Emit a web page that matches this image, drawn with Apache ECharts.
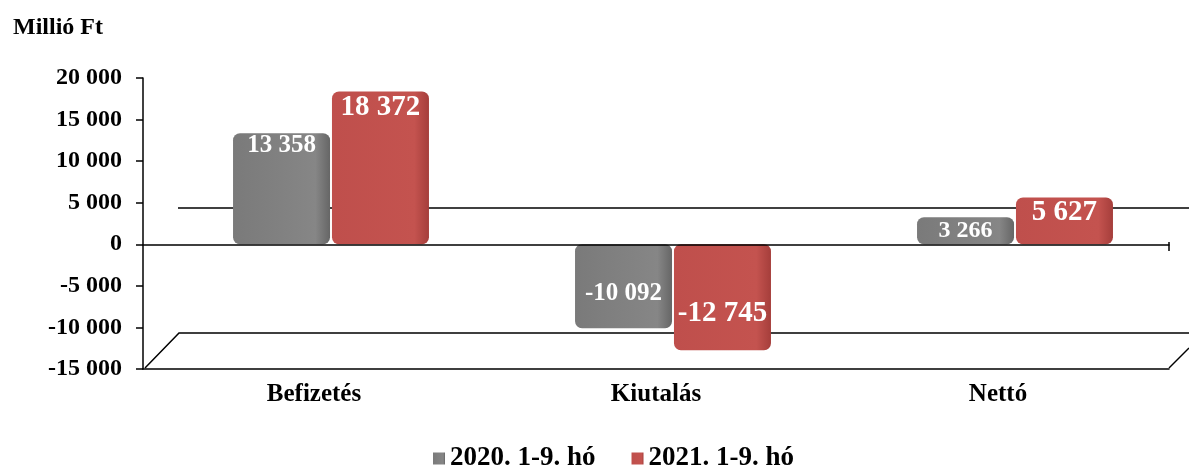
<!DOCTYPE html>
<html><head><meta charset="utf-8">
<script src="https://cdn.jsdelivr.net/npm/echarts@6/dist/echarts.min.js"></script>
<style>html,body{margin:0;padding:0;background:#fff}#c{width:1189px;height:470px}</style>
</head><body><div id="c"></div>
<script>
const categories = ['Befizetés', 'Kiutalás', 'Nettó'];
const seriesNames = ['2020. 1-9. hó', '2021. 1-9. hó'];
const values2020 = [13358, -10092, 3266];
const values2021 = [18372, -12745, 5627];
const yTicks = [-15000, -10000, -5000, 0, 5000, 10000, 15000, 20000];

const fmt = v => {
  const s = Math.abs(v).toString().replace(/\B(?=(\d{3})+(?!\d))/g, ' ');
  return (v < 0 ? '-' : '') + s;
};
const serif = '"Liberation Serif", "Times New Roman", serif';
const yMin = yTicks[0], yMax = yTicks[yTicks.length - 1];

function mkData(vals, fs, topDist) {
  return vals.map(v => {
    const small = Math.abs(v) < 4000;
    return {
      value: v,
      label: {
        position: small ? 'inside' : (v < 0 ? 'insideBottom' : 'insideTop'),
        distance: v < 0 ? 22 : topDist,
        fontSize: small ? 24 : fs
      }
    };
  });
}

const lineStyle = { stroke: '#000', lineWidth: 1.5 };
const chart = echarts.init(document.getElementById('c'));
chart.setOption({
  animation: false,
  textStyle: { fontFamily: serif },
  title: {
    text: 'Millió Ft', left: 8, top: 11,
    textStyle: { fontFamily: serif, fontSize: 24, fontWeight: 'bold', color: '#000' }
  },
  legend: {
    data: seriesNames, top: 440, left: 428,
    itemWidth: 12, itemHeight: 12, itemGap: 36,
    icon: 'rect',
    textStyle: { fontFamily: serif, fontSize: 27, fontWeight: 'bold', color: '#000' }
  },
  graphic: {
    elements: [
      { type: 'line', zlevel: -1, silent: true, shape: { x1: 178, y1: 208, x2: 1189, y2: 208 }, style: lineStyle },
      { type: 'polyline', zlevel: -1, silent: true, shape: { points: [[145, 368], [179, 333], [1189, 333]] }, style: lineStyle },
      { type: 'line', zlevel: -1, silent: true, shape: { x1: 1169, y1: 368, x2: 1189, y2: 348 }, style: lineStyle },
      { type: 'line', zlevel: -1, silent: true, shape: { x1: 1169, y1: 242, x2: 1169, y2: 251 }, style: lineStyle }
    ]
  },
  grid: [
    { left: 143, right: 20, top: 78, bottom: 101 },
    { left: 160, right: 3, top: 78, bottom: 101 }
  ],
  xAxis: [
    {
      type: 'category', data: categories, gridIndex: 0,
      axisLine: { onZero: false, lineStyle: { color: '#000', width: 1.5 } },
      axisTick: { show: false },
      axisLabel: { fontFamily: serif, fontSize: 25, fontWeight: 'bold', color: '#000', margin: 13 }
    },
    {
      type: 'category', data: categories, gridIndex: 0, position: 'bottom', z: 20,
      axisLine: { onZero: true, lineStyle: { color: '#000', width: 1.5 } },
      axisTick: { show: false }, axisLabel: { show: false }
    },
    {
      type: 'category', data: categories, gridIndex: 1, show: false
    }
  ],
  yAxis: [
    {
      type: 'value', min: yMin, max: yMax, interval: 5000, gridIndex: 0,
      axisLine: { show: true, lineStyle: { color: '#000', width: 1.5 } },
      axisTick: { show: true, length: 7, lineStyle: { color: '#000', width: 1.5 } },
      splitLine: { show: false },
      axisLabel: { fontFamily: serif, fontSize: 24, fontWeight: 'bold', color: '#000', margin: 21, formatter: fmt }
    },
    {
      type: 'value', min: yMin, max: yMax, interval: 5000, gridIndex: 1, show: false,
      splitLine: { show: false }
    }
  ],
  series: [
    {
      name: seriesNames[0], type: 'bar', xAxisIndex: 2, yAxisIndex: 1,
      data: mkData(values2020, 25, 0),
      barWidth: 97, barGap: '2%',
      itemStyle: {
        borderRadius: 7,
        color: new echarts.graphic.LinearGradient(0, 0, 1, 0, [
          { offset: 0, color: '#7a7a7a' }, { offset: 0.85, color: '#868686' }, { offset: 1, color: '#666666' }
        ])
      },
      label: {
        show: true, color: '#fff', fontFamily: serif, fontWeight: 'bold',
        formatter: p => fmt(p.value)
      }
    },
    {
      name: seriesNames[1], type: 'bar', xAxisIndex: 2, yAxisIndex: 1,
      data: mkData(values2021, 29, 1),
      barWidth: 97,
      itemStyle: {
        borderRadius: 7,
        color: new echarts.graphic.LinearGradient(0, 0, 1, 0, [
          { offset: 0, color: '#bf4f4c' }, { offset: 0.85, color: '#c4534f' }, { offset: 1, color: '#a53e3b' }
        ])
      },
      label: {
        show: true, color: '#fff', fontFamily: serif, fontWeight: 'bold',
        formatter: p => fmt(p.value)
      }
    }
  ]
});
</script></body></html>
